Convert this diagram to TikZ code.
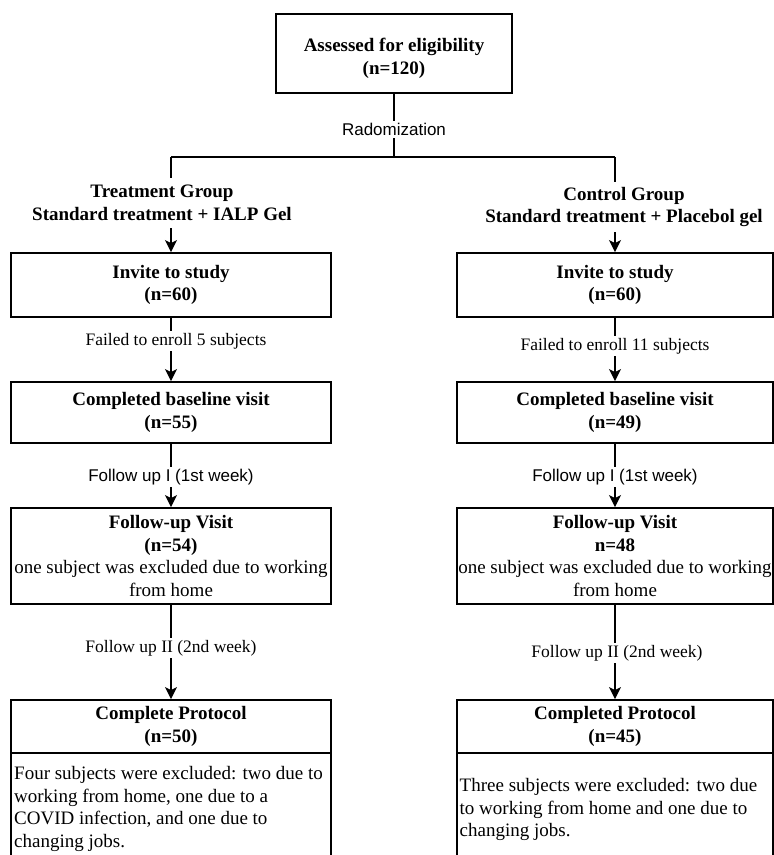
\documentclass[tikz,border=0pt]{standalone}
\usepackage{fontspec}
\setmainfont{Liberation Serif}
\newfontfamily\arialf{Liberation Sans}
\usetikzlibrary{arrows.meta}
\begin{document}
\begin{tikzpicture}[x=1pt,y=-1pt,
  box/.style={draw=black, line width=1.8pt, rectangle, inner sep=0pt, align=center,
    font=\fontsize{19}{22.7}\selectfont},
  lbox/.style={box, minimum width=320pt},
  rbox/.style={box, minimum width=316pt},
  grp/.style={align=center, inner sep=0pt, minimum height=50pt,
    font=\fontsize{19}{22.7}\selectfont\bfseries},
  btxt/.style={align=center, inner sep=0pt, font=\fontsize{19}{22.7}\selectfont\bfseries},
  bodytxt/.style={align=left, inner sep=0pt, anchor=north west,
    font=\fontsize{19}{22.7}\selectfont},
  conn/.style={draw=black, line width=1.4pt},
  arr/.style={conn, -{Stealth[length=12pt,width=12pt,inset=3pt]}},
  seriflab/.style={fill=white, inner sep=2pt, font=\fontsize{17.5}{21}\selectfont},
  sanslab/.style={fill=white, inner sep=2pt, font=\arialf\fontsize{17}{20}\selectfont}
]
\useasboundingbox (0,0) rectangle (774,855);

% top box
\node[box, minimum width=236pt, minimum height=79pt] (top) at (394,53.5) {};
\node[btxt] (toptxt) at (394,58.5) {Assessed for eligibility\\(n=120)};

% split coordinates
\coordinate (sp) at (394,157);
\coordinate (spL) at (171,157);
\coordinate (spR) at (615,157);

% group labels
\node[grp] (tg) at (162,203) {Treatment Group\\Standard treatment + IALP Gel};
\node[grp] (cg) at (624,207) {Control Group\\Standard treatment + Placebol gel};

% left column
\node[lbox, minimum height=64pt] (inv1) at (171,285) {\textbf{Invite to study}\\\textbf{(n=60)}};
\node[lbox, minimum height=61pt] (base1) at (171,412.5) {\textbf{Completed baseline visit}\\\textbf{(n=55)}};
\node[lbox, minimum height=96pt] (vis1) at (171,556) {\textbf{Follow-up Visit}\\\textbf{(n=54)}\\one subject was excluded due to working\\from home};
\node[lbox, minimum height=53pt] (prot1) at (171,726.5) {\textbf{Complete Protocol}\\\textbf{(n=50)}};
\node[lbox, minimum height=127pt] (body1) at (171,816.5) {};
\node[bodytxt] (bt1) at (14,766) {Four subjects were excluded: two due to\\working from home, one due to a\\COVID infection, and one due to\\changing jobs.};

% right column
\node[rbox, minimum height=64pt] (inv2) at (615,285) {\textbf{Invite to study}\\\textbf{(n=60)}};
\node[rbox, minimum height=61pt] (base2) at (615,412.5) {\textbf{Completed baseline visit}\\\textbf{(n=49)}};
\node[rbox, minimum height=96pt] (vis2) at (615,556) {\textbf{Follow-up Visit}\\\textbf{n=48}\\one subject was excluded due to working\\from home};
\node[rbox, minimum height=53pt] (prot2) at (615,726.5) {\textbf{Completed Protocol}\\\textbf{(n=45)}};
\node[rbox, minimum height=127pt] (body2) at (615,816.5) {};
\node[bodytxt] (bt2) at (459.5,778) {Three subjects were excluded: two due\\to working from home and one due to\\changing jobs.};

% connectors
\draw[conn] (top) -- node[sanslab, pos=0.5625] {Radomization} (sp);
\draw[conn] (spL) -- (spR);
\draw[conn] (spL) -- (spL |- tg.north);
\draw[conn] (spR) -- (spR |- cg.north);
\draw[arr] (spL |- tg.south) -- (inv1);
\draw[arr] (spR |- cg.south) -- (inv2);

\draw[arr] (inv1) -- node[seriflab, pos=0.37, xshift=5pt] {Failed to enroll 5 subjects} (base1);
\draw[arr] (inv2) -- node[seriflab, pos=0.446] {Failed to enroll 11 subjects} (base2);

\draw[arr] (base1) -- node[sanslab, pos=0.523] {Follow up I (1st week)} (vis1);
\draw[arr] (base2) -- node[sanslab, pos=0.523] {Follow up I (1st week)} (vis2);

\draw[arr] (vis1) -- node[seriflab, pos=0.458] {Follow up II (2nd week)} (prot1);
\draw[arr] (vis2) -- node[seriflab, pos=0.51, xshift=2pt] {Follow up II (2nd week)} (prot2);
\end{tikzpicture}
\end{document}
